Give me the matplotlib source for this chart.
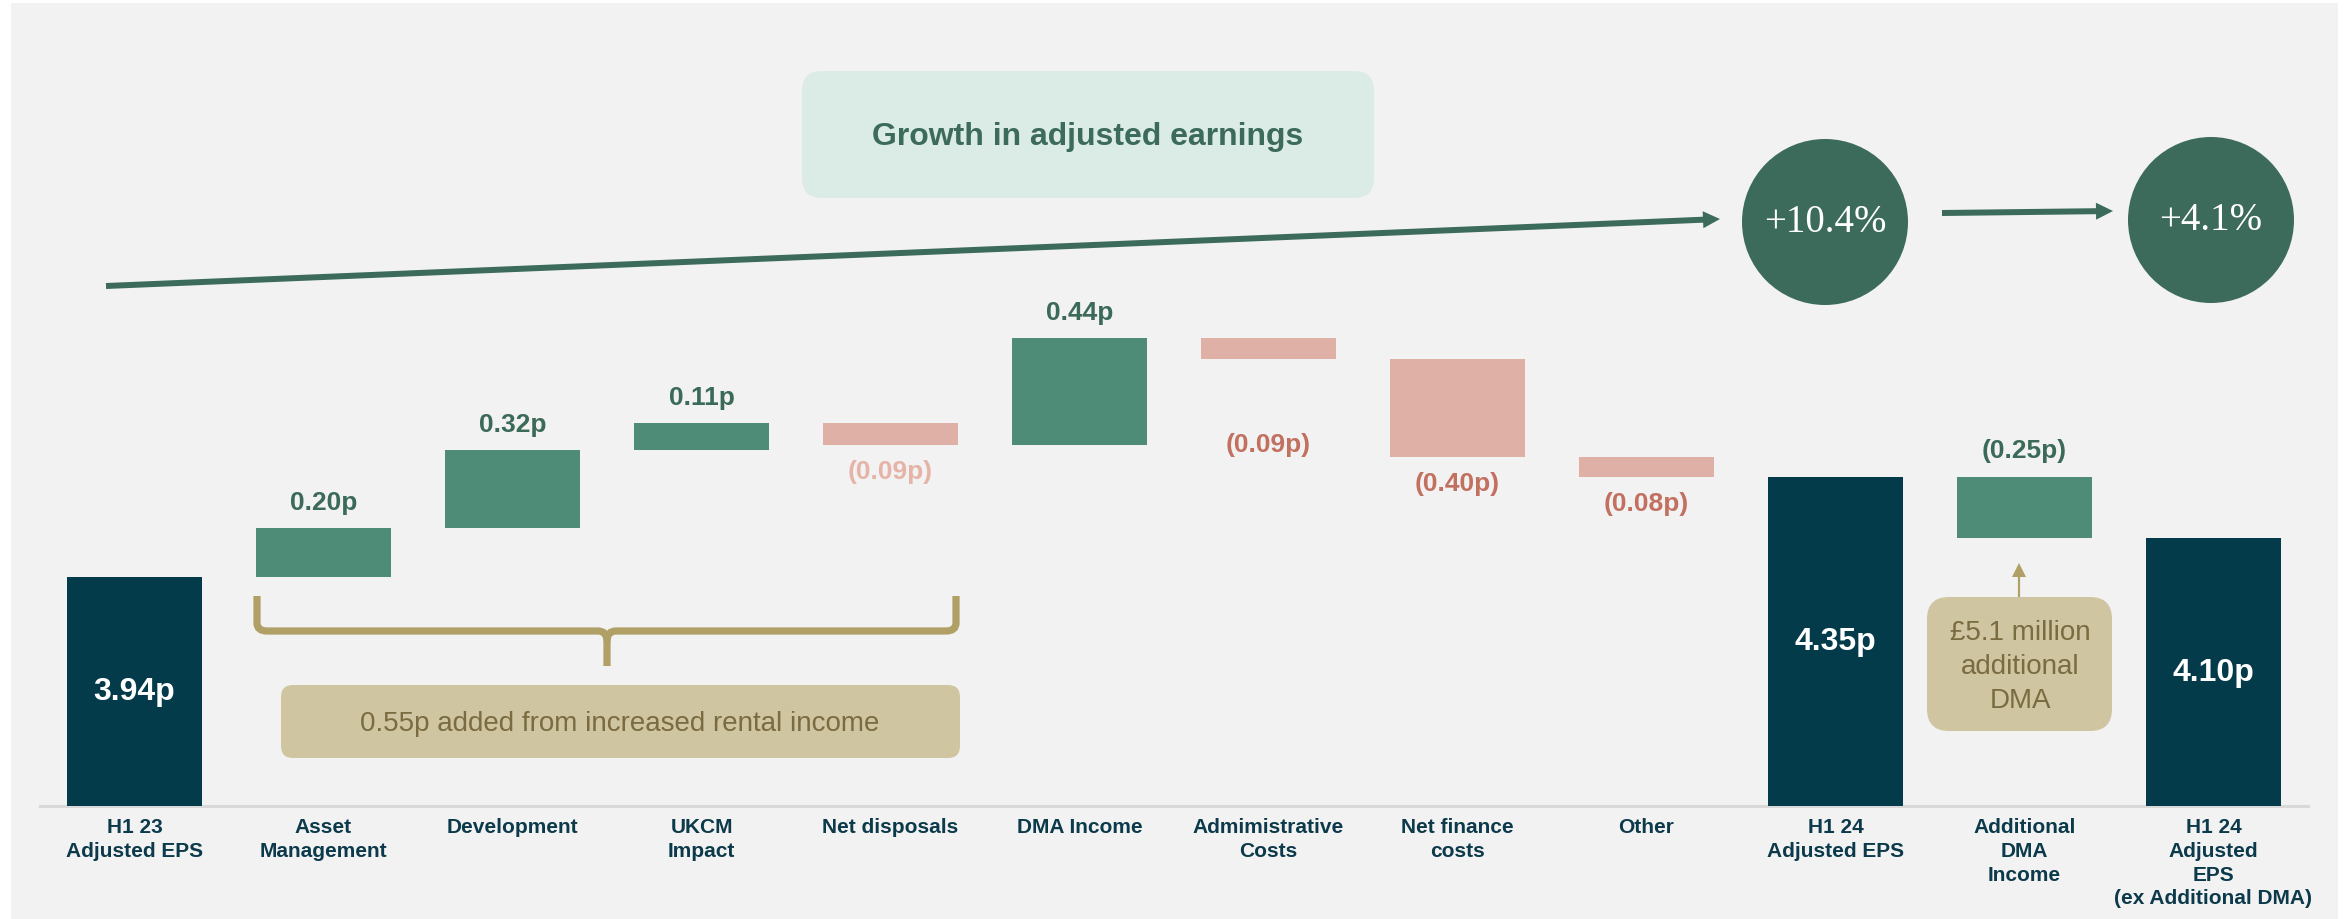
import matplotlib
matplotlib.use("Agg")
import matplotlib.pyplot as plt
import numpy as np
from matplotlib.patches import FancyBboxPatch, Circle, Rectangle, Polygon, PathPatch
from matplotlib.path import Path

# ---------------- data ----------------
categories = ["H1 23\nAdjusted EPS", "Asset\nManagement", "Development", "UKCM\nImpact",
              "Net disposals", "DMA Income", "Admimistrative\nCosts", "Net finance\ncosts",
              "Other", "H1 24\nAdjusted EPS", "Additional\nDMA\nIncome",
              "H1 24\nAdjusted\nEPS\n(ex Additional DMA)"]
start_eps = 3.94
step_values = [0.20, 0.32, 0.11, -0.09, 0.44, -0.09, -0.40, -0.08]
h1_24_eps = 4.35
additional_dma = -0.25
h1_24_ex_dma = 4.10
step_labels = ["0.20p", "0.32p", "0.11p", "(0.09p)", "0.44p", "(0.09p)", "(0.40p)", "(0.08p)"]
dma_label = "(0.25p)"
total_labels = ["3.94p", "4.35p", "4.10p"]
growth_labels = ["+10.4%", "+4.1%"]
title_text = "Growth in adjusted earnings"
rental_text = "0.55p added from increased rental income"
dma_note_text = "£5.1 million\nadditional\nDMA"

# ---------------- styles ----------------
NAVY = "#033b4b"
GREEN = "#4f8c77"
PINK = "#dfb0a6"
DKGREEN = "#3c6b5b"
LBL_GREEN = "#3b6a58"
LBL_RED = "#c2705f"
LBL_LTPINK = "#e6b3a8"
TAN = "#b1a066"
TANBOX = "#cfc5a1"
TANTXT = "#7a6b40"
MINT = "#dbebe5"
BG = "#f2f2f2"
CATCOL = "#0c3a4b"
SANS = ["Liberation Sans", "DejaVu Sans"]
SERIF = ["Liberation Serif", "DejaVu Serif"]

W, H = 2351, 920
fig = plt.figure(figsize=(W / 100, H / 100), dpi=100)
fig.patch.set_facecolor("white")
fig.patches.append(Rectangle((11 / W, 0), (2338 - 11) / W, (H - 4) / H,
                             transform=fig.transFigure, facecolor=BG,
                             edgecolor="none", zorder=-10))

# main waterfall axes (bottom edge = baseline)
base_px = 807
px_per_unit = 244.0
ax = fig.add_axes([0, (H - base_px) / H, 1, base_px / H])
ax.set_facecolor("none")
ax.set_ylim(3.0, 3.0 + base_px / px_per_unit)
ax.set_xlim(-134.5 / 189, (W - 134.5) / 189)
for s in ["top", "left", "right"]:
    ax.spines[s].set_visible(False)
ax.spines["bottom"].set_color("#d9d9d9")
ax.spines["bottom"].set_linewidth(2.2)
ax.spines["bottom"].set_bounds(-0.5, 11.5)
ax.set_yticks([])
ax.set_xticks([])

bw = 0.714
x = np.arange(len(categories))

# totals
totals_idx = [0, 9, 11]
totals_val = [start_eps, h1_24_eps, h1_24_ex_dma]
ax.bar([x[i] for i in totals_idx], totals_val, width=bw, color=NAVY, zorder=3)
for i, v, t in zip(totals_idx, totals_val, total_labels):
    ax.text(x[i], (3.0 + v) / 2, t, ha="center", va="center", color="white",
            fontsize=23, fontweight="bold", family=SANS, zorder=4)

# steps
cum = start_eps + np.concatenate([[0], np.cumsum(step_values)])
label_off = [26, 26, 26, 26, 26, 85, 26, 26]
for k, dv in enumerate(step_values):
    xi = x[k + 1]
    lo = min(cum[k], cum[k + 1])
    col = GREEN if dv > 0 else PINK
    ax.bar(xi, abs(dv), bottom=lo, width=bw, color=col, zorder=3)
    if dv > 0:
        ax.annotate(step_labels[k], (xi, cum[k + 1]), xytext=(0, label_off[k] * 0.72),
                    textcoords="offset points", ha="center", va="center",
                    fontsize=19, fontweight="bold", color=LBL_GREEN, family=SANS)
    else:
        tc = LBL_LTPINK if k == 3 else LBL_RED
        ax.annotate(step_labels[k], (xi, cum[k + 1]), xytext=(0, -label_off[k] * 0.72),
                    textcoords="offset points", ha="center", va="center",
                    fontsize=19, fontweight="bold", color=tc, family=SANS)

# additional DMA bar
ax.bar(x[10], abs(additional_dma), bottom=h1_24_eps + additional_dma, width=bw,
       color=GREEN, zorder=3)
ax.annotate(dma_label, (x[10], h1_24_eps), xytext=(0, 27 * 0.72),
            textcoords="offset points", ha="center", va="center",
            fontsize=19, fontweight="bold", color=LBL_GREEN, family=SANS)

# category labels
for xi, c in zip(x, categories):
    ax.annotate(c, (xi, 3.0), xytext=(0, -11 * 0.72), textcoords="offset points",
                ha="center", va="top", fontsize=15, fontweight="bold",
                color=CATCOL, family=SANS, linespacing=1.32)

# ---------------- overlay decorations (pixel coords) ----------------
ov = fig.add_axes([0, 0, 1, 1], zorder=5)
ov.set_xlim(0, W)
ov.set_ylim(H, 0)
ov.axis("off")
ov.set_facecolor("none")

# title box
ov.add_patch(FancyBboxPatch((802 + 20, 72 + 20), 1374 - 802 - 40, 199 - 72 - 40,
                            boxstyle="round,pad=20", facecolor=MINT, edgecolor="none"))
ov.text(1088, 137, title_text, ha="center", va="center", fontsize=23,
        fontweight="bold", color=DKGREEN, family=SANS)


def arrow(p0, p1, lw_px, head_len, head_half, color):
    p0 = np.array(p0, float); p1 = np.array(p1, float)
    d = (p1 - p0) / np.linalg.norm(p1 - p0)
    n = np.array([-d[1], d[0]])
    base = p1 - d * head_len
    ov.plot([p0[0], base[0] + d[0]], [p0[1], base[1] + d[1]], color=color,
            lw=lw_px * 0.72, solid_capstyle="butt")
    ov.add_patch(Polygon([p1, base + n * head_half, base - n * head_half],
                         closed=True, facecolor=color, edgecolor="none"))


arrow((106, 287), (1720, 220), 6, 17, 8.5, DKGREEN)
arrow((1942, 214), (2113, 212), 6, 17, 8.5, DKGREEN)

# growth circles
for cx, cy, t in zip([1825, 2211], [223, 221], growth_labels):
    ov.add_patch(Circle((cx, cy), 83, facecolor=DKGREEN, edgecolor="none"))
    ov.text(cx, cy, t, ha="center", va="center", fontsize=28, color="white",
            family=SERIF)

# brace
verts = [(257, 597), (257, 624), (257, 632), (267, 632), (598, 632),
         (607, 632), (607, 642), (607, 667)]
codes = [Path.MOVETO, Path.LINETO, Path.CURVE3, Path.CURVE3, Path.LINETO,
         Path.CURVE3, Path.CURVE3, Path.LINETO]
ov.add_patch(PathPatch(Path(verts, codes), facecolor="none", edgecolor=TAN,
                       lw=5.2, capstyle="butt"))
verts = [(956, 597), (956, 624), (956, 632), (946, 632), (616, 632),
         (607, 632), (607, 642)]
codes = [Path.MOVETO, Path.LINETO, Path.CURVE3, Path.CURVE3, Path.LINETO,
         Path.CURVE3, Path.CURVE3]
ov.add_patch(PathPatch(Path(verts, codes), facecolor="none", edgecolor=TAN,
                       lw=5.2, capstyle="butt"))

# rental box
ov.add_patch(FancyBboxPatch((281 + 12, 686 + 12), 960 - 281 - 24, 759 - 686 - 24,
                            boxstyle="round,pad=12", facecolor=TANBOX, edgecolor="none"))
ov.text(620, 724, rental_text, ha="center", va="center", fontsize=20,
        color=TANTXT, family=SANS)

# DMA note box and arrow
ov.add_patch(FancyBboxPatch((1927 + 22, 598 + 22), 2112 - 1927 - 44, 732 - 598 - 44,
                            boxstyle="round,pad=22", facecolor=TANBOX, edgecolor="none"))
ov.text(2020, 667, dma_note_text, ha="center", va="center", fontsize=20,
        color=TANTXT, family=SANS, linespacing=1.42)
arrow((2019, 598), (2019, 564), 2.2, 14, 7, TAN)

fig.savefig("out.png", dpi=100, facecolor=fig.get_facecolor())
